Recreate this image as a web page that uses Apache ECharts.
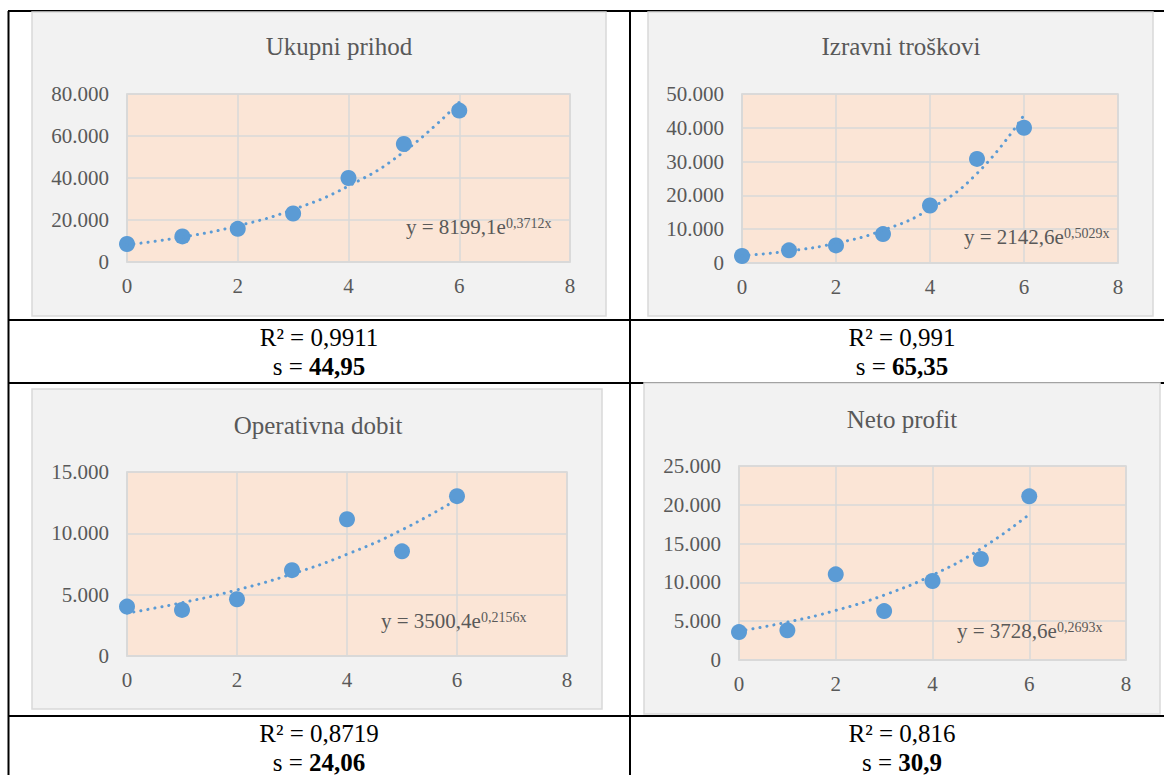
<!DOCTYPE html>
<html>
<head>
<meta charset="utf-8">
<title>Trendovi</title>
<script src="https://cdn.jsdelivr.net/npm/echarts@6/dist/echarts.min.js"></script>
<style>
html, body { margin: 0; padding: 0; background: #fff; }
#chart { width: 1164px; height: 775px; }
</style>
</head>
<body>
<div id="chart"></div>
<script>
// x values (periods)
const periods = [0, 1, 2, 3, 4, 5, 6];

const ukupniPrihod = [8550, 12200, 15800, 23100, 40000, 56200, 72100];
const izravniTroskovi = [2070, 3740, 5200, 8550, 17000, 30800, 40000];
const operativnaDobit = [4030, 3760, 4630, 7000, 11150, 8530, 13030];
const netoProfit = [3600, 3820, 11040, 6300, 10180, 13020, 21090];

// exponential trendline values at each period (from the printed equations)
const prihodTrend = [8199, 11884, 17226, 24969, 36192, 52460, 76040];
const troskoviTrend = [2143, 3543, 5858, 9686, 16017, 26484, 43790];
const dobitTrend = [3500, 4343, 5388, 6684, 8292, 10287, 12762];
const profitTrend = [3729, 4881, 6389, 8364, 10949, 14333, 18762];

const titles = ['Ukupni prihod', 'Izravni troškovi', 'Operativna dobit', 'Neto profit'];
const eqBase = ['y = 8199,1e', 'y = 2142,6e', 'y = 3500,4e', 'y = 3728,6e'];
const eqExp = ['0,3712x', '0,5029x', '0,2156x', '0,2693x'];
const rSquared = ['0,9911', '0,991', '0,8719', '0,816'];
const sValues = ['44,95', '65,35', '24,06', '30,9'];
const yMax = [80000, 50000, 15000, 25000];
const yStep = [20000, 10000, 5000, 5000];

const observed = [ukupniPrihod, izravniTroskovi, operativnaDobit, netoProfit];
const trends = [prihodTrend, troskoviTrend, dobitTrend, profitTrend];

// layout of the four panels (pixels)
const layout = [
  { box: [32, 12, 574, 304], grid: [127, 94, 443, 168], title: [339, 46], eq: [406, 227], stats: [319, 337, 366] },
  { box: [648, 12, 505, 304], grid: [742, 94, 376, 169], title: [901, 46], eq: [964, 237], stats: [902, 337, 366] },
  { box: [32, 389, 570, 320], grid: [127, 472, 440, 184], title: [318, 425], eq: [381, 621], stats: [319, 733, 762] },
  { box: [644, 383, 516, 331], grid: [739, 466, 387, 194], title: [902, 419], eq: [957, 631], stats: [902, 733, 762] }
];

const FONT = 'Liberation Serif';
const BLUE = '#5B9BD5';
const GRAY_TEXT = '#595959';
const GRID_LINE = '#D9D9D9';

const thousands = v => String(v).replace(/\B(?=(\d{3})+(?!\d))/g, '.');

const chart = echarts.init(document.getElementById('chart'), null, { renderer: 'svg' });

const grids = [], xAxes = [], yAxes = [], series = [], graphics = [];

// table rules
const tableLines = [
  [8, 11, 1164, 11], [8.5, 11, 8.5, 775], [630, 11, 630, 775],
  [8, 320, 1164, 320], [8, 383, 1164, 383], [8, 716, 1164, 716]
];
tableLines.forEach(l => {
  graphics.push({
    type: 'line', z: -20,
    shape: { x1: l[0], y1: l[1], x2: l[2], y2: l[3] },
    style: { stroke: '#000', lineWidth: 2 }
  });
});

layout.forEach((p, i) => {
  // chart area box
  graphics.push({
    type: 'rect', z: -10,
    shape: { x: p.box[0], y: p.box[1], width: p.box[2], height: p.box[3] },
    style: { fill: '#F2F2F2', stroke: GRID_LINE, lineWidth: 1.5 }
  });
  // title
  graphics.push({
    type: 'text', z: 50, x: p.title[0], y: p.title[1],
    style: { text: titles[i], fill: GRAY_TEXT, fontSize: 25, fontFamily: FONT, align: 'center', verticalAlign: 'middle' }
  });
  // trendline equation
  graphics.push({
    type: 'text', z: 50, x: p.eq[0], y: p.eq[1],
    style: {
      text: '{a|' + eqBase[i] + '}{b|' + eqExp[i] + '}',
      align: 'left', verticalAlign: 'middle',
      rich: {
        a: { fontSize: 21, fontFamily: FONT, fill: GRAY_TEXT, lineHeight: 22 },
        b: { fontSize: 14, fontFamily: FONT, fill: GRAY_TEXT, lineHeight: 14, verticalAlign: 'top' }
      }
    }
  });
  // R² and s under the chart
  graphics.push({
    type: 'text', z: 50, x: p.stats[0], y: p.stats[1],
    style: { text: 'R² = ' + rSquared[i], fill: '#000', fontSize: 25, fontFamily: FONT, lineHeight: 24, align: 'center', verticalAlign: 'middle' }
  });
  graphics.push({
    type: 'text', z: 50, x: p.stats[0], y: p.stats[2],
    style: {
      text: '{n|s = }{b|' + sValues[i] + '}',
      align: 'center', verticalAlign: 'middle',
      rich: {
        n: { fontSize: 25, fontFamily: FONT, fill: '#000', lineHeight: 22 },
        b: { fontSize: 25, fontFamily: FONT, fill: '#000', fontWeight: 'bold', lineHeight: 22 }
      }
    }
  });

  grids.push({
    left: p.grid[0], top: p.grid[1], width: p.grid[2], height: p.grid[3],
    show: true, backgroundColor: '#FBE5D6', borderColor: GRID_LINE, borderWidth: 1.5
  });
  xAxes.push({
    type: 'value', gridIndex: i, min: 0, max: 8, interval: 2,
    axisLine: { show: true, lineStyle: { color: GRID_LINE, width: 1.5 } },
    axisTick: { show: false },
    axisLabel: { fontSize: 21, fontFamily: FONT, color: GRAY_TEXT, margin: 13 },
    splitLine: { show: true, lineStyle: { color: GRID_LINE, width: 1.5 } }
  });
  yAxes.push({
    type: 'value', gridIndex: i, min: 0, max: yMax[i], interval: yStep[i],
    axisLine: { show: true, lineStyle: { color: GRID_LINE, width: 1.5 } },
    axisTick: { show: false },
    axisLabel: { fontSize: 21, fontFamily: FONT, color: GRAY_TEXT, margin: 18, formatter: thousands },
    splitLine: { show: true, lineStyle: { color: GRID_LINE, width: 1.5 } }
  });
  series.push({
    type: 'scatter', xAxisIndex: i, yAxisIndex: i, z: 2,
    symbolSize: 16,
    itemStyle: { color: BLUE, opacity: 1 },
    data: periods.map((x, k) => [x, observed[i][k]])
  });
  series.push({
    type: 'line', xAxisIndex: i, yAxisIndex: i, z: 3,
    smooth: true, showSymbol: false, silent: true,
    lineStyle: { color: BLUE, width: 3, type: [0.1, 7], cap: 'round' },
    data: periods.map((x, k) => [x, trends[i][k]])
  });
});

chart.setOption({
  animation: false,
  backgroundColor: '#fff',
  grid: grids,
  xAxis: xAxes,
  yAxis: yAxes,
  series: series,
  graphic: { elements: graphics }
});
</script>
</body>
</html>
